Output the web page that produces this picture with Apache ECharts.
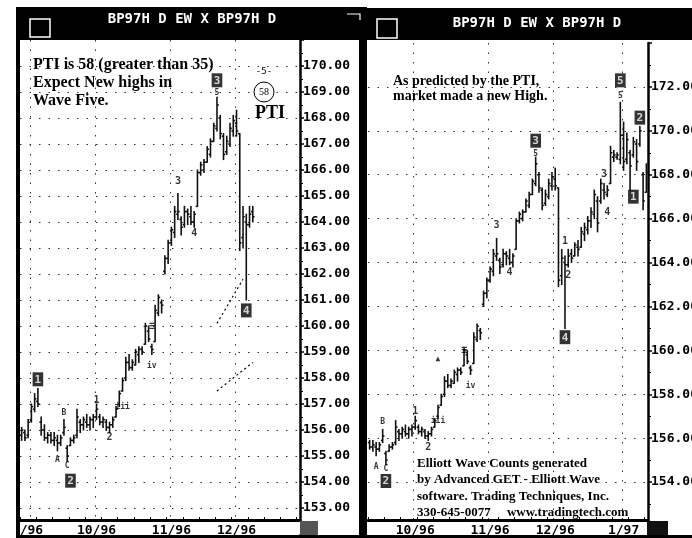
<!DOCTYPE html>
<html><head><meta charset="utf-8">
<script src="https://cdn.jsdelivr.net/npm/echarts@6/dist/echarts.min.js"></script>
<style>html,body{margin:0;padding:0;background:#fff}#c{width:692px;height:538px}</style>
</head><body><div id="c"></div>
<script>
// ---- trading days (Aug 28 1996 .. Jan 13 1997) ----
const dates = [
 '1996-08-28','1996-08-29','1996-08-30',
 '1996-09-03','1996-09-04','1996-09-05','1996-09-06','1996-09-09','1996-09-10','1996-09-11','1996-09-12','1996-09-13',
 '1996-09-16','1996-09-17','1996-09-18','1996-09-19','1996-09-20','1996-09-23','1996-09-24','1996-09-25','1996-09-26','1996-09-27','1996-09-30',
 '1996-10-01','1996-10-02','1996-10-03','1996-10-04','1996-10-07','1996-10-08','1996-10-09','1996-10-10','1996-10-11',
 '1996-10-14','1996-10-15','1996-10-16','1996-10-17','1996-10-18','1996-10-21','1996-10-22','1996-10-23','1996-10-24','1996-10-25',
 '1996-10-28','1996-10-29','1996-10-30','1996-10-31',
 '1996-11-01','1996-11-04','1996-11-05','1996-11-06','1996-11-07','1996-11-08','1996-11-11','1996-11-12','1996-11-13','1996-11-14','1996-11-15',
 '1996-11-18','1996-11-19','1996-11-20','1996-11-21','1996-11-22','1996-11-25','1996-11-26','1996-11-27','1996-11-29',
 '1996-12-02','1996-12-03','1996-12-04','1996-12-05','1996-12-06','1996-12-09','1996-12-10','1996-12-11','1996-12-12','1996-12-13',
 '1996-12-16','1996-12-17','1996-12-18','1996-12-19','1996-12-20','1996-12-23','1996-12-24','1996-12-26','1996-12-27','1996-12-30','1996-12-31',
 '1997-01-02','1997-01-03','1997-01-06','1997-01-07','1997-01-08','1997-01-09','1997-01-10','1997-01-13'
];
const opens = [
 155.8,155.9,155.8,156.4,156.8,157.1,156.3,156.0,155.7,155.8,155.6,155.6,155.5,155.9,155.3,155.4,155.6,155.8,156.3,156.2,
 156.3,156.2,156.4,156.5,156.5,156.3,156.3,156.1,156.2,156.5,157.0,157.5,158.0,158.6,158.4,158.5,158.9,159.1,159.3,159.8,
 159.2,159.4,160.5,160.9,162.1,162.6,163.2,163.6,164.3,164.1,163.9,164.4,164.2,164.0,164.6,165.9,166.0,166.3,166.6,167.1,
 167.6,168.0,167.3,166.7,167.0,167.5,167.8,167.4,163.4,164.0,163.9,164.4,164.3,164.7,164.7,165.3,165.5,165.9,166.2,166.8,
 166.8,167.3,167.1,167.6,168.8,168.8,168.7,169.8,168.7,169.0,168.9,169.4,169.4,168.0,167.2
];
const highs = [
 156.1,156.0,156.4,157.0,157.4,157.6,156.5,156.2,155.9,155.9,155.9,155.8,155.8,156.4,155.4,155.7,155.8,156.8,156.4,156.5,
 156.6,156.5,156.6,157.0,156.6,156.5,156.4,156.3,156.5,156.9,157.5,158.0,158.8,158.9,158.7,159.1,159.2,159.2,160.1,160.0,
 159.3,160.8,161.2,161.0,162.7,163.3,163.8,164.6,165.1,164.2,164.6,164.5,164.6,164.4,166.0,166.3,166.4,166.9,167.2,167.8,
 168.8,168.1,167.4,167.3,167.8,168.1,168.3,167.4,164.6,164.3,164.6,164.6,164.9,165.0,165.6,165.8,166.1,166.5,167.3,167.0,
 167.8,167.6,167.5,169.3,169.1,169.0,171.3,170.4,169.9,169.1,169.7,169.6,170.2,168.1,168.5
];
const lows = [
 155.6,155.6,155.7,156.3,156.7,156.9,155.8,155.6,155.5,155.5,155.4,155.2,155.4,155.8,154.8,155.4,155.5,155.7,155.9,156.0,
 156.1,156.0,156.1,156.4,156.2,156.1,156.0,155.9,156.1,156.5,156.9,157.5,157.9,158.3,158.3,158.5,158.6,158.9,159.3,159.4,
 158.9,159.4,160.4,160.5,162.0,162.4,163.1,163.4,164.1,163.5,163.8,163.9,163.9,163.8,164.6,165.8,165.9,166.3,166.5,167.1,
 167.5,167.2,166.4,166.6,166.9,167.3,167.3,162.9,163.0,161.0,163.8,164.0,164.3,164.3,164.7,165.0,165.3,165.6,166.0,165.4,
 166.7,166.9,167.0,167.6,168.6,168.7,168.5,168.2,168.5,167.3,168.8,168.2,169.3,166.4,167.2
];
const closes = [
 156.0,155.7,156.3,156.9,157.2,157.0,156.0,155.7,155.8,155.6,155.7,155.5,155.7,156.1,155.0,155.6,155.7,156.5,156.2,156.4,
 156.2,156.4,156.5,156.8,156.3,156.4,156.1,156.2,156.4,156.8,157.4,157.9,158.6,158.4,158.6,159.0,159.1,159.0,160.0,159.5,
 159.1,160.6,161.1,160.8,162.6,163.2,163.7,164.4,164.4,163.8,164.4,164.3,164.0,164.3,165.9,166.2,166.3,166.8,167.1,167.7,
 168.5,167.4,166.6,167.1,167.6,167.9,167.5,163.2,164.2,163.9,164.3,164.2,164.8,164.6,165.4,165.6,165.9,166.3,167.1,165.8,
 167.6,167.2,167.3,169.0,168.9,168.9,169.8,168.6,169.6,168.4,169.5,168.6,170.0,166.8,168.1
];

// panel ranges
const leftAxisStart = '1996-08-28', leftAxisEnd = '1996-12-30', leftLastBar = '1996-12-09';
const rightAxisStart = '1996-09-11', rightAxisEnd = '1997-01-13';

// tick labels
const leftTickDates = ['1996-09-03','1996-10-01','1996-11-01','1996-12-02'];
const leftTickLabels = ['/96','10/96','11/96','12/96'];
const rightTickDates = ['1996-10-01','1996-11-01','1996-12-02','1997-01-02'];
const rightTickLabels = ['10/96','11/96','12/96','1/97'];

// wave labels (0 plain, 1 boxed, 2 small)
const leftWaveText  = ['1','A','B','C','2','1','2','iii','≡','iv','3','4','3','5','4'];
const leftWaveDate  = ['1996-09-05','1996-09-13','1996-09-17','1996-09-18','1996-09-19','1996-10-01','1996-10-07','1996-10-11','1996-10-24','1996-10-24','1996-11-05','1996-11-12','1996-11-21','1996-11-21','1996-12-05'];
const leftWavePrice = [157.95,154.85,156.65,154.6,154.05,157.15,155.7,156.9,160.0,158.45,165.55,163.55,169.45,168.95,160.6];
const leftWaveKind  = [1,2,2,2,1,0,0,2,0,2,0,0,1,2,1];

const rightWaveText  = ['A','B','C','2','1','2','iii','▲','≡','iv','3','4','3','5','1','2','4','3','4','5','5','1','2'];
const rightWaveDate  = ['1996-09-13','1996-09-17','1996-09-18','1996-09-18','1996-10-01','1996-10-07','1996-10-10','1996-10-10','1996-10-22','1996-10-24','1996-11-05','1996-11-11','1996-11-21','1996-11-21','1996-12-05','1996-12-06','1996-12-05','1996-12-23','1996-12-24','1996-12-31','1996-12-31','1997-01-07','1997-01-09'];
const rightWavePrice = [154.7,156.75,154.6,154.05,157.2,155.6,156.8,159.6,160.0,158.4,165.7,163.55,169.55,168.95,164.95,163.4,160.6,168.0,166.3,172.3,171.6,167.0,170.6];
const rightWaveKind  = [2,2,2,1,0,0,2,2,0,2,0,0,1,2,0,0,1,0,0,1,2,1,1];

// projection lines on the left panel
const projStartDates = ['1996-11-21','1996-11-21'];
const projStartPrices = [160.1, 157.5];
const projEndDates = ['1996-12-04','1996-12-09'];
const projEndPrices = [161.8, 158.6];

// ---- build ----
const iLS = dates.indexOf(leftAxisStart), iLE = dates.indexOf(leftAxisEnd), iLB = dates.indexOf(leftLastBar);
const iRS = dates.indexOf(rightAxisStart), iRE = dates.indexOf(rightAxisEnd);
const leftCats = dates.slice(iLS, iLE + 1);
const rightCats = dates.slice(iRS, iRE + 1);
function rows(a, b){ const r=[]; for(let k=a;k<=b;k++) r.push([dates[k],opens[k],highs[k],lows[k],closes[k]]); return r; }
const leftRows = rows(iLS, iLB);
const rightRows = rows(iRS, iRE);
function waveData(t, d, p, kind){ return t.map((s,i)=>({value:[d[i],p[i]], name:s, kind:kind[i]})); }

const MONO = 'DejaVu Sans Mono';
const dotted = {type:[1.5,8], color:'#333', width:1};

function renderOHLC(params, api){
  const x = api.value(0);
  const pO = api.coord([x, api.value(1)]);
  const pH = api.coord([x, api.value(2)]);
  const pL = api.coord([x, api.value(3)]);
  const pC = api.coord([x, api.value(4)]);
  const w = api.size([1,0])[0]*0.55;
  const st = {stroke:'#111', lineWidth:1.6};
  return {type:'group', children:[
    {type:'line', shape:{x1:pH[0],y1:pH[1]-0.5,x2:pL[0],y2:pL[1]+0.5}, style:st},
    {type:'line', shape:{x1:pO[0]-w,y1:pO[1],x2:pO[0],y2:pO[1]}, style:st},
    {type:'line', shape:{x1:pC[0],y1:pC[1],x2:pC[0]+w,y2:pC[1]}, style:st}
  ]};
}
const waveLabel = {
  show:true, position:'inside',
  formatter: p => p.data.kind===1 ? '{b|'+p.name+'}' : (p.data.kind===2 ? '{s|'+p.name+'}' : '{t|'+p.name+'}'),
  rich:{
    b:{backgroundColor:'#000', color:'#fff', fontFamily:MONO, fontWeight:'bold', fontSize:11, padding:[2,2,1,2], lineHeight:13},
    t:{color:'#000', fontFamily:MONO, fontWeight:'bold', fontSize:10},
    s:{color:'#000', fontFamily:MONO, fontWeight:'bold', fontSize:8}
  }
};
function xSplit(ticks){ return (i,v)=>ticks.includes(v); }
function xAxisPair(grid, cats, ticks, labels, off){
  return [
    {type:'category', gridIndex:grid, position:'bottom', data:cats, boundaryGap:true,
     axisLine:{show:false}, axisTick:{show:false}, axisLabel:{show:false},
     splitLine:{show:true, interval:xSplit(ticks), lineStyle:dotted}},
    {type:'category', gridIndex:grid, position:'bottom', data:cats, boundaryGap:true, offset:off, z:5,
     axisLine:{show:true, onZero:false, lineStyle:{color:'#000', width:3}},
     axisTick:{show:true, inside:true, interval:4, length:3, lineStyle:{color:'#000', width:1}},
     axisLabel:{interval:xSplit(ticks), formatter:v=>labels[ticks.indexOf(v)], margin:4,
       fontFamily:MONO, fontWeight:'bold', fontSize:13, color:'#000'},
     splitLine:{show:false}}
  ];
}
function yAxisOf(grid, min, max, step){
  return {type:'value', gridIndex:grid, position:'right', min:min, max:max, interval:step,
    axisLine:{show:true, lineStyle:{color:'#000', width:2.5}},
    axisTick:{show:true, length:4, lineStyle:{color:'#000', width:1.5}},
    minorTick:{show:true, splitNumber:2, length:3, lineStyle:{color:'#000', width:1}},
    axisLabel:{margin:3, fontFamily:MONO, fontWeight:'bold', fontSize:13, color:'#000',
      showMinLabel:false, showMaxLabel:false, formatter:v=>v.toFixed(2)},
    splitLine:{show:true, showMinLine:false, showMaxLine:false, lineStyle:dotted}};
}

const g = [];
// frames and headers
g.push({type:'rect', shape:{x:20,y:522,width:280,height:12}, style:{fill:'#fff'}, z:3});
g.push({type:'rect', shape:{x:368,y:522,width:278,height:5}, style:{fill:'#fff'}, z:3});
g.push({type:'rect', shape:{x:16,y:7,width:346,height:33}, style:{fill:'#000'}, z:10});
g.push({type:'rect', shape:{x:362,y:8,width:330,height:32}, style:{fill:'#000'}, z:10});
g.push({type:'rect', shape:{x:16,y:7,width:4,height:531}, style:{fill:'#000'}, z:10});
g.push({type:'rect', shape:{x:359,y:7,width:8,height:531}, style:{fill:'#000'}, z:10});
g.push({type:'rect', shape:{x:16,y:535,width:676,height:3}, style:{fill:'#000'}, z:10});
g.push({type:'rect', shape:{x:300,y:521,width:18,height:14}, style:{fill:'#555'}, z:10});
g.push({type:'rect', shape:{x:647,y:521,width:21,height:14}, style:{fill:'#111'}, z:10});
g.push({type:'rect', shape:{x:30,y:19,width:20,height:18}, style:{fill:null, stroke:'#fff', lineWidth:1.5}, z:11});
g.push({type:'rect', shape:{x:377,y:19,width:20,height:19}, style:{fill:null, stroke:'#fff', lineWidth:1.5}, z:11});
g.push({type:'polyline', shape:{points:[[347,14],[360,14],[360,20]]}, style:{stroke:'#fff', lineWidth:1.2, fill:null}, z:11});
g.push({type:'text', x:192, y:19, z:11, style:{text:'BP97H D EW X BP97H D', fill:'#fff', font:'bold 14px "DejaVu Sans Mono"', textAlign:'center', textVerticalAlign:'middle'}});
g.push({type:'text', x:537, y:23, z:11, style:{text:'BP97H D EW X BP97H D', fill:'#fff', font:'bold 14px "DejaVu Sans Mono"', textAlign:'center', textVerticalAlign:'middle'}});
// annotations
g.push({type:'text', x:33, y:56, z:6, style:{text:'PTI is 58 (greater than 35)\nExpect New highs in\nWave Five.', fill:'#000', font:'bold 16px "Liberation Serif"', lineHeight:18}});
g.push({type:'text', x:264, y:72, z:6, style:{text:'-5-', fill:'#000', font:'9px "DejaVu Sans Mono"', textAlign:'center', textVerticalAlign:'middle'}});
g.push({type:'circle', shape:{cx:264, cy:92, r:10}, style:{fill:'#fff', stroke:'#000', lineWidth:1}, z:6});
g.push({type:'text', x:264, y:92, z:7, style:{text:'58', fill:'#000', font:'10px "Liberation Serif"', textAlign:'center', textVerticalAlign:'middle'}});
g.push({type:'text', x:270, y:113, z:6, style:{text:'PTI', fill:'#000', font:'bold 18px "Liberation Serif"', textAlign:'center', textVerticalAlign:'middle'}});
g.push({type:'text', x:393, y:74, z:6, style:{text:'As predicted by the PTI,\nmarket made a new High.', fill:'#000', font:'bold 14px "Liberation Serif"', lineHeight:15}});
g.push({type:'text', x:417, y:455, z:6, style:{text:'Elliott Wave Counts generated\nby Advanced GET - Elliott Wave\nsoftware. Trading Techniques, Inc.\n330-645-0077     www.tradingtech.com', fill:'#000', font:'bold 13px "Liberation Serif"', lineHeight:16.5}});

const option = {
  animation:false,
  backgroundColor:'#fff',
  grid:[
    {left:20, top:40, width:280, bottom:4, outerBoundsMode:'none', containLabel:false},
    {left:368, top:43, width:280, bottom:12, outerBoundsMode:'none', containLabel:false}
  ],
  xAxis:[...xAxisPair(0, leftCats, leftTickDates, leftTickLabels, -14),
         ...xAxisPair(1, rightCats, rightTickDates, rightTickLabels, -6)],
  yAxis:[yAxisOf(0, 152, 171, 1), yAxisOf(1, 152, 174, 2)],
  series:[
    {type:'custom', xAxisIndex:0, yAxisIndex:0, data:leftRows, encode:{x:0, y:[1,2,3,4]}, renderItem:renderOHLC, z:2},
    {type:'custom', xAxisIndex:2, yAxisIndex:1, data:rightRows, encode:{x:0, y:[1,2,3,4]}, renderItem:renderOHLC, z:2},
    {type:'scatter', xAxisIndex:0, yAxisIndex:0, symbolSize:1, itemStyle:{color:'transparent'}, z:4,
     data:waveData(leftWaveText, leftWaveDate, leftWavePrice, leftWaveKind), label:waveLabel,
     markLine:{silent:true, symbol:['none','none'], label:{show:false},
       lineStyle:{type:[2,3], color:'#000', width:1.2},
       data: projStartDates.map((d,i)=>[{coord:[d, projStartPrices[i]]},{coord:[projEndDates[i], projEndPrices[i]]}])}},
    {type:'scatter', xAxisIndex:2, yAxisIndex:1, symbolSize:1, itemStyle:{color:'transparent'}, z:4,
     data:waveData(rightWaveText, rightWaveDate, rightWavePrice, rightWaveKind), label:waveLabel}
  ],
  graphic:{elements:g}
};
const chart = echarts.init(document.getElementById('c'));
chart.setOption(option);
</script></body></html>
